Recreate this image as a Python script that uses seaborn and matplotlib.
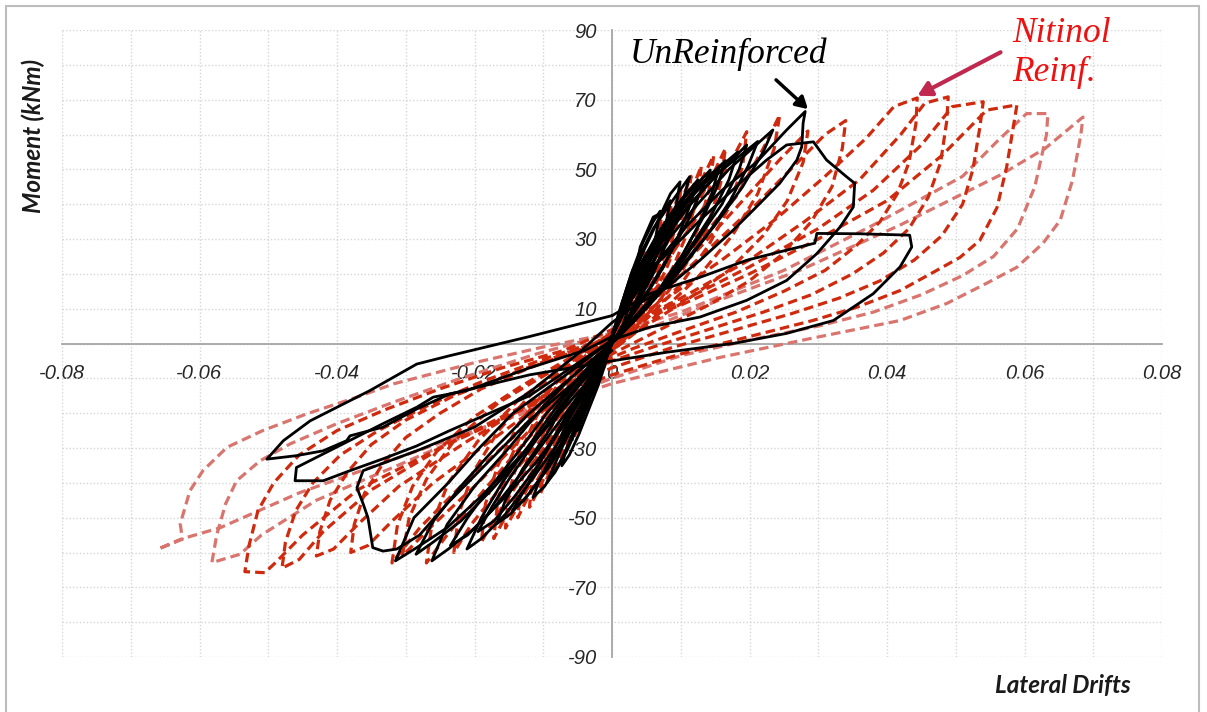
import numpy as np
import pandas as pd
import matplotlib
matplotlib.use("Agg")
import matplotlib.pyplot as plt
from matplotlib.patches import FancyArrowPatch, Rectangle
import seaborn as sns

# ---------------------------------------------------------------------------
# Moment (kNm) vs lateral drift hysteresis cycles, (drift, moment) vertices
# ---------------------------------------------------------------------------

# Nitinol-reinforced column: large late cycles (lighter shade for the last two)
nit_r1 = [(0, 3), (0.008, 13), (0.016, 24), (0.024, 36), (0.031, 48), (0.037, 59), (0.041, 68), (0.0444, 70.5),
          (0.0442, 63), (0.0432, 52), (0.0415, 43), (0.039, 35), (0.0355, 28), (0.031, 21), (0.025, 15), (0.018, 9),
          (0.01, 3.5), (0.003, -1.5), (0, -4),
          (-0.008, -14), (-0.017, -27), (-0.026, -40), (-0.032, -51), (-0.0355, -58), (-0.038, -60),
          (-0.0375, -52), (-0.036, -43), (-0.0335, -35), (-0.03, -27), (-0.025, -20), (-0.019, -13), (-0.012, -7),
          (-0.005, -2), (0, 2)]
nit_r2 = [(0, 3), (0.01, 13), (0.02, 24), (0.028, 35), (0.036, 47), (0.042, 60), (0.0455, 69), (0.0489, 70.8),
          (0.0487, 64), (0.0478, 52), (0.046, 42), (0.0432, 33), (0.0395, 26), (0.035, 20), (0.029, 14), (0.022, 9),
          (0.014, 4), (0.006, -1), (0, -5),
          (-0.01, -15), (-0.021, -28), (-0.031, -41), (-0.037, -52), (-0.0405, -59), (-0.043, -61),
          (-0.0425, -54), (-0.041, -45), (-0.0385, -37), (-0.035, -29), (-0.03, -22), (-0.023, -15), (-0.015, -9),
          (-0.007, -3), (0, 2)]
nit_r3 = [(0, 4), (0.01, 12), (0.02, 22), (0.03, 33), (0.038, 44), (0.045, 57), (0.0495, 68), (0.054, 69.4),
          (0.0535, 62), (0.0525, 50), (0.051, 40), (0.048, 31), (0.044, 24), (0.039, 18), (0.033, 13), (0.026, 8.5),
          (0.018, 4), (0.009, -1), (0, -7),
          (-0.012, -17), (-0.024, -29), (-0.035, -42), (-0.042, -54), (-0.0455, -62), (-0.048, -64.5),
          (-0.0475, -57), (-0.046, -48), (-0.0435, -40), (-0.0395, -32), (-0.034, -25), (-0.027, -18), (-0.019, -11),
          (-0.01, -4.5), (0, 2)]
nit_r4 = [(0, 4), (0.01, 11), (0.02, 20), (0.03, 30), (0.04, 41), (0.048, 54), (0.0545, 67), (0.0589, 68.5),
          (0.0583, 61.3), (0.0574, 50.6), (0.056, 39), (0.0535, 29.6), (0.0506, 24.7), (0.0467, 20.4), (0.0419, 15.2),
          (0.0356, 10.4), (0.0292, 6.6), (0.02, 2), (0.01, -3), (0, -9),
          (-0.012, -18), (-0.025, -30), (-0.037, -42), (-0.045, -55), (-0.049, -63), (-0.0505, -65.8), (-0.0534, -65.5),
          (-0.0528, -58), (-0.0515, -48), (-0.0492, -40), (-0.0455, -32), (-0.04, -25), (-0.033, -19), (-0.025, -13),
          (-0.016, -7), (-0.007, -2), (0, 4)]
nit_r5 = [(0, 3), (0.01, 9), (0.025, 21), (0.038, 34), (0.051, 48), (0.056, 58), (0.0603, 66), (0.0634, 66),
          (0.0632, 60), (0.0615, 45), (0.059, 33), (0.0555, 25), (0.051, 19.5), (0.045, 14), (0.038, 9), (0.03, 5),
          (0.02, 1), (0.01, -3.5), (0, -10),
          (-0.015, -21), (-0.03, -34), (-0.043, -45), (-0.051, -55), (-0.0541, -60.5), (-0.0582, -62.9),
          (-0.0575, -55), (-0.0562, -46), (-0.0546, -39.4), (-0.0512, -33.7), (-0.0468, -28.8), (-0.04, -23),
          (-0.032, -17), (-0.022, -10), (-0.011, -3), (0, 3)]
nit_r6 = [(0, 3), (0.0055, 4.5), (0.015, 12), (0.0273, 21), (0.0419, 34), (0.0564, 48.3), (0.063, 56), (0.0685, 65),
          (0.0682, 60), (0.067, 47), (0.0652, 35.4), (0.0627, 28.8), (0.0589, 21.9), (0.0545, 17.3), (0.0487, 11.5),
          (0.0419, 6.6), (0.0346, 3.7), (0.0288, 1.4), (0.0157, -4), (0, -11.5),
          (-0.015, -21.5), (-0.03, -32), (-0.0454, -42.8), (-0.057, -52.9), (-0.0619, -55.7), (-0.066, -59),
          (-0.0625, -56), (-0.0628, -51.8), (-0.0614, -42.3), (-0.0595, -36.5), (-0.056, -29.8), (-0.0508, -25),
          (-0.0444, -20.2), (-0.0371, -15.4), (-0.0318, -11.6), (-0.02, -5.5), (-0.01, -1), (0, 3)]

# Nitinol-reinforced column: earlier, narrower cycles
nit_m1 = [(0, 3), (0.007, 14), (0.014, 27), (0.021, 40), (0.027, 52), (0.031, 60), (0.034, 64),
          (0.0335, 56), (0.032, 45), (0.029, 35), (0.025, 26), (0.02, 18), (0.014, 11), (0.007, 4), (0, -3),
          (-0.007, -14), (-0.015, -28), (-0.022, -41), (-0.028, -53), (-0.032, -63),
          (-0.0312, -52), (-0.029, -41), (-0.0255, -31), (-0.02, -21), (-0.013, -12), (-0.006, -4), (0, 3)]
nit_i9 = [(0, 3), (0.0065, 15), (0.013, 28), (0.019, 41), (0.0245, 53), (0.0285, 61),
          (0.0278, 52), (0.0255, 41), (0.022, 31), (0.017, 21), (0.0105, 12), (0.004, 4), (0, -2),
          (-0.0065, -14), (-0.0135, -28), (-0.02, -41), (-0.026, -52), (-0.0305, -61),
          (-0.0295, -50), (-0.027, -39), (-0.023, -28), (-0.0165, -17), (-0.008, -7), (0, 3)]
nit_i1 = [(0, 3), (0.006, 15), (0.012, 28), (0.018, 42), (0.022, 56), (0.0244, 65.6),
          (0.0236, 56), (0.0212, 43), (0.0175, 31), (0.0125, 19), (0.0065, 8), (0, -2),
          (-0.006, -14), (-0.013, -29), (-0.019, -43), (-0.024, -55), (-0.027, -63),
          (-0.0262, -52), (-0.0238, -40), (-0.0195, -28), (-0.0135, -16), (-0.0065, -6), (0, 3)]
nit_i2 = [(0, 3), (0.005, 15), (0.0095, 28), (0.014, 41), (0.0175, 53), (0.0196, 60.8),
          (0.019, 51), (0.017, 39), (0.014, 28), (0.01, 17), (0.005, 7), (0, -2),
          (-0.005, -14), (-0.0105, -28), (-0.016, -41), (-0.0205, -52), (-0.023, -60),
          (-0.0223, -49), (-0.0202, -37), (-0.0165, -25), (-0.0115, -14), (-0.0055, -5), (0, 3)]
nit_i3 = [(0, 3), (0.004, 14), (0.008, 26), (0.0118, 38), (0.0148, 49), (0.0165, 56),
          (0.0158, 46), (0.0141, 35), (0.0115, 25), (0.0082, 15), (0.004, 6), (0, -2),
          (-0.004, -13), (-0.0088, -27), (-0.0133, -39), (-0.017, -50), (-0.019, -57),
          (-0.0184, -46), (-0.0166, -35), (-0.0136, -23), (-0.0094, -13), (-0.0045, -4), (0, 3)]
nit_i10 = [(0, 3), (0.0036, 14), (0.0072, 26), (0.0106, 38), (0.0133, 48), (0.0148, 54),
           (0.0141, 44), (0.0125, 33), (0.0102, 23), (0.0072, 13), (0.0035, 5), (0, -2),
           (-0.0038, -13), (-0.008, -26), (-0.012, -38), (-0.0153, -49), (-0.0172, -56),
           (-0.0166, -45), (-0.015, -34), (-0.0123, -22), (-0.0085, -12), (-0.004, -4), (0, 3)]
nit_i4 = [(0, 3), (0.0032, 13), (0.0065, 24), (0.0095, 35), (0.0118, 45), (0.013, 51),
          (0.0124, 42), (0.011, 32), (0.0089, 22), (0.0063, 13), (0.003, 5), (0, -2),
          (-0.0033, -12), (-0.0072, -25), (-0.011, -37), (-0.0138, -47), (-0.0155, -53),
          (-0.015, -43), (-0.0135, -32), (-0.011, -21), (-0.0076, -11), (-0.0036, -3), (0, 3)]
nit_i11 = [(0, 2), (0.0028, 12), (0.0057, 23), (0.0083, 33), (0.0103, 42), (0.0115, 48),
           (0.0109, 39), (0.0097, 30), (0.0078, 21), (0.0055, 12), (0.0026, 4), (0, -2),
           (-0.003, -12), (-0.0064, -24), (-0.0097, -35), (-0.0122, -44), (-0.0137, -50),
           (-0.0132, -40), (-0.0119, -30), (-0.0097, -20), (-0.0067, -10), (-0.0032, -3), (0, 2)]
nit_i5 = [(0, 2), (0.0025, 11), (0.005, 21), (0.0073, 31), (0.009, 39), (0.01, 44),
          (0.0095, 36), (0.0084, 27), (0.0068, 19), (0.0048, 11), (0.0023, 4), (0, -2),
          (-0.0026, -11), (-0.0056, -22), (-0.0085, -33), (-0.0107, -42), (-0.012, -47),
          (-0.0116, -38), (-0.0104, -28), (-0.0085, -18), (-0.0058, -9), (-0.0028, -3), (0, 2)]
nit_i12 = [(0, 2), (0.0021, 10), (0.0043, 19), (0.0063, 28), (0.0077, 35), (0.0086, 40),
           (0.0081, 32), (0.0072, 24), (0.0058, 17), (0.004, 9), (0.0019, 3), (0, -2),
           (-0.0023, -10), (-0.0049, -20), (-0.0074, -30), (-0.0093, -38), (-0.0104, -43),
           (-0.01, -34), (-0.009, -25), (-0.0073, -16), (-0.005, -8), (-0.0024, -2), (0, 2)]
nit_i6 = [(0, 2), (0.0018, 9), (0.0036, 17), (0.0053, 25), (0.0065, 31), (0.0072, 36),
          (0.0068, 29), (0.006, 22), (0.0048, 15), (0.0034, 8), (0.0016, 3), (0, -2),
          (-0.0019, -9), (-0.0041, -18), (-0.0062, -27), (-0.0078, -34), (-0.0088, -38),
          (-0.0085, -30), (-0.0076, -22), (-0.0062, -14), (-0.0042, -7), (-0.002, -2), (0, 2)]
nit_i7 = [(0, 2), (0.0012, 7), (0.0024, 12), (0.0036, 18), (0.0044, 23), (0.0048, 26),
          (0.0045, 21), (0.0039, 15), (0.0031, 10), (0.0021, 5), (0.001, 2), (0, -1),
          (-0.0012, -6), (-0.0027, -13), (-0.004, -20), (-0.0051, -25), (-0.0058, -28),
          (-0.0055, -22), (-0.0049, -16), (-0.004, -10), (-0.0027, -5), (-0.0013, -1), (0, 2)]
nit_i8 = [(0, 1), (0.001, 6), (0.002, 11), (0.003, 16), (0.0026, 11), (0.0017, 6), (0.0008, 2), (0, -1),
          (-0.0012, -7), (-0.0024, -13), (-0.0035, -18), (-0.0029, -12), (-0.0019, -6), (-0.0009, -2), (0, 1)]

# Unreinforced column: three last (degrading) cycles
unr_c1 = [(0, 8), (0.0055, 14.3), (0.0128, 19), (0.0196, 23.9), (0.0254, 26.8), (0.0295, 28.8), (0.0298, 31.6),
          (0.036, 31.5), (0.0433, 31.1), (0.0436, 27.7), (0.0419, 22), (0.038, 14.3), (0.0322, 6.6), (0.0254, 2.9),
          (0.0176, 0), (0.008, -2.5), (0, -5),
          (-0.012, -9), (-0.0236, -14.5), (-0.0284, -18.8), (-0.0333, -24), (-0.0381, -26.5), (-0.0386, -27.9),
          (-0.042, -30.8), (-0.0459, -32.2), (-0.0502, -33.2),
          (-0.0478, -27.9), (-0.0439, -22.2), (-0.04, -18.3), (-0.0352, -13.5), (-0.0284, -5.9), (-0.0236, -3.5),
          (-0.012, 2), (0, 8)]
unr_c2 = [(0, 2), (0.003, 16.1), (0.008, 25.8), (0.0128, 35.4), (0.0186, 46), (0.0225, 52.7), (0.0254, 57),
          (0.0293, 57.9), (0.0312, 52.7), (0.0341, 47.9), (0.0353, 46), (0.0351, 39.2), (0.0332, 33.5),
          (0.0298, 25.8), (0.0254, 18.1), (0.0196, 12.4), (0.0128, 7.6), (0.0055, 4.7), (0, 1),
          (-0.012, -15), (-0.0236, -25), (-0.0284, -29.4), (-0.0333, -33.1), (-0.0381, -36.5), (-0.042, -39.4),
          (-0.0461, -39.4), (-0.0459, -35.6), (-0.042, -31.7), (-0.0333, -23), (-0.0284, -18.3), (-0.026, -15.4),
          (-0.0211, -13.5), (-0.012, -7), (-0.004, -2), (0, 2)]
unr_c3 = [(0, 2), (0.002, 10), (0.006, 22), (0.011, 34), (0.016, 44), (0.021, 52), (0.0254, 61.3), (0.0281, 66.6),
          (0.0278, 63.3), (0.0276, 56.5), (0.0269, 52.7), (0.0244, 46), (0.021, 39.2), (0.0176, 32.5),
          (0.0128, 23.9), (0.008, 16.2), (0.003, 10.4), (0, 6),
          (-0.005, -3), (-0.012, -14), (-0.02, -24), (-0.028, -30.5), (-0.0362, -36.5), (-0.0371, -41.4),
          (-0.0362, -46), (-0.0355, -50), (-0.0348, -58.6), (-0.0333, -59.6), (-0.0313, -59),
          (-0.028, -55), (-0.024, -46), (-0.018, -34), (-0.012, -22), (-0.006, -12), (0, -2)]

# Unreinforced column: earlier cycles
unr_k1 = [(0, 2), (0.003, 14), (0.007, 27), (0.012, 39), (0.017, 50), (0.0234, 61.3),
          (0.022, 55), (0.019, 45), (0.015, 34), (0.01, 22), (0.005, 11), (0, 1),
          (-0.006, -8), (-0.0144, -20), (-0.0192, -29.8), (-0.024, -40.4), (-0.0288, -50), (-0.0315, -62.4),
          (-0.0284, -58.6), (-0.024, -52.9), (-0.0192, -44.2), (-0.0144, -34.5), (-0.009, -23), (-0.004, -12), (0, 2)]
unr_k9 = [(0, 2), (0.003, 15), (0.0065, 27), (0.011, 39), (0.0155, 49), (0.0212, 58),
          (0.0198, 51), (0.0172, 41), (0.0138, 31), (0.0095, 20), (0.0045, 9), (0, 0),
          (-0.0055, -9), (-0.012, -20), (-0.017, -30), (-0.022, -41), (-0.026, -51), (-0.0285, -60.5),
          (-0.026, -57), (-0.022, -51), (-0.0175, -42), (-0.013, -32), (-0.008, -20), (-0.0035, -9), (0, 2)]
unr_k2 = [(0, 2), (0.0025, 14), (0.006, 26), (0.01, 37), (0.015, 48), (0.0196, 57),
          (0.0185, 50), (0.016, 40), (0.0125, 30), (0.0085, 19), (0.004, 9), (0, 0),
          (-0.005, -8), (-0.01, -18), (-0.015, -30), (-0.02, -41), (-0.024, -52), (-0.0262, -62.4),
          (-0.0238, -59), (-0.02, -53), (-0.0155, -44), (-0.011, -34), (-0.0065, -22), (-0.002, -9), (0, 2)]
unr_k3 = [(0, 2), (0.002, 13), (0.005, 25), (0.0085, 36), (0.013, 46), (0.0183, 55),
          (0.017, 47), (0.0145, 37), (0.0112, 27), (0.0075, 17), (0.0035, 8), (0, 0),
          (-0.004, -8), (-0.008, -18), (-0.012, -29), (-0.016, -40), (-0.019, -50), (-0.0211, -59),
          (-0.019, -56), (-0.0155, -49), (-0.012, -40), (-0.008, -29), (-0.004, -16), (0, 2)]
unr_k10 = [(0, 2), (0.002, 13), (0.0048, 24), (0.008, 34), (0.012, 44), (0.0165, 52.5),
           (0.0153, 45), (0.0132, 36), (0.0104, 26), (0.007, 16), (0.0032, 7), (0, 0),
           (-0.0045, -9), (-0.0095, -20), (-0.014, -32), (-0.018, -42), (-0.021, -50), (-0.0235, -58),
           (-0.021, -55), (-0.0175, -48), (-0.0135, -38), (-0.009, -26), (-0.0045, -14), (0, 1)]
unr_k13 = [(0, 3), (0.0025, 14), (0.0055, 25), (0.0088, 35), (0.012, 43), (0.0155, 50),
           (0.0145, 43), (0.0126, 34), (0.0099, 24), (0.0066, 14), (0.003, 6), (0, 0),
           (-0.0035, -8), (-0.0075, -18), (-0.0115, -29), (-0.015, -39), (-0.0175, -47), (-0.0195, -54),
           (-0.0172, -51), (-0.0142, -44), (-0.0108, -35), (-0.007, -23), (-0.0032, -11), (0, 2)]
unr_k4 = [(0, 2), (0.002, 13), (0.0045, 24), (0.0075, 34), (0.011, 43), (0.0143, 49.8),
          (0.013, 44), (0.011, 35), (0.0085, 26), (0.0055, 16), (0.0025, 7), (0, 0),
          (-0.003, -7), (-0.0065, -16), (-0.0095, -26), (-0.013, -36), (-0.0155, -45), (-0.0168, -51.8),
          (-0.0148, -49), (-0.012, -43), (-0.009, -35), (-0.006, -25), (-0.003, -14), (0, 2)]
unr_k11 = [(0, 2), (0.0018, 12), (0.004, 22), (0.0065, 31), (0.0095, 40), (0.0125, 47),
           (0.0114, 40), (0.0097, 31), (0.0075, 22), (0.005, 14), (0.0022, 6), (0, 0),
           (-0.0025, -8), (-0.0055, -17), (-0.0085, -27), (-0.011, -36), (-0.013, -43), (-0.0145, -48),
           (-0.0128, -45), (-0.0102, -38), (-0.0075, -29), (-0.0048, -19), (-0.0022, -9), (0, 1)]
unr_k5 = [(0, 2), (0.0015, 12), (0.0035, 23), (0.006, 33), (0.0088, 41), (0.0113, 47.9),
          (0.0103, 41), (0.0087, 32), (0.0066, 23), (0.0042, 14), (0.002, 6), (0, 0),
          (-0.002, -7), (-0.0045, -15), (-0.0068, -24), (-0.009, -33), (-0.0105, -39), (-0.0115, -44.2),
          (-0.0098, -41), (-0.0078, -35), (-0.0058, -27), (-0.0038, -18), (-0.0018, -9), (0, 2)]
unr_k6 = [(0, 2), (0.003, 16), (0.0041, 27.7), (0.006, 36.3), (0.0072, 37.5), (0.0085, 43), (0.0099, 46.4),
          (0.0092, 38), (0.0078, 29), (0.006, 20), (0.0038, 12), (0.0015, 5), (0, 0),
          (-0.0015, -6), (-0.003, -13), (-0.0045, -20), (-0.006, -27), (-0.0068, -31), (-0.0073, -35.1),
          (-0.0062, -32), (-0.0048, -26), (-0.0034, -19), (-0.002, -12), (-0.001, -6), (0, 2)]
unr_k12 = [(0, 2), (0.0013, 10), (0.003, 19), (0.0047, 27), (0.0066, 35), (0.0085, 41),
           (0.0078, 34), (0.0066, 26), (0.005, 18), (0.0032, 10), (0.0014, 4), (0, 0),
           (-0.0016, -7), (-0.0036, -15), (-0.0056, -23), (-0.0073, -30), (-0.0086, -36), (-0.0095, -40),
           (-0.0083, -37), (-0.0066, -31), (-0.0048, -23), (-0.003, -14), (-0.0014, -6), (0, 1)]
unr_k7 = [(0, 2), (0.0012, 10), (0.0028, 20), (0.0045, 29), (0.006, 35), (0.007, 38),
          (0.0064, 31), (0.0054, 23), (0.0041, 15), (0.0025, 8), (0.001, 3), (0, 0),
          (-0.001, -5), (-0.0022, -11), (-0.0034, -17), (-0.0044, -22), (-0.005, -25),
          (-0.0043, -21), (-0.0033, -16), (-0.0022, -10), (-0.001, -4), (0, 2)]
unr_k8 = [(0, 1), (0.001, 8), (0.002, 15), (0.003, 21), (0.004, 25), (0.0035, 19), (0.0027, 12), (0.0017, 6),
          (0.0007, 2), (0, 0), (-0.001, -5), (-0.002, -10), (-0.003, -15), (-0.0024, -11), (-0.0015, -6),
          (-0.0007, -2), (0, 1)]

# Axis ticks and labels
x_ticks = [-0.08, -0.06, -0.04, -0.02, 0.0, 0.02, 0.04, 0.06, 0.08]
x_tick_labels = ["-0.08", "-0.06", "-0.04", "-0.02", "0", "0.02", "0.04", "0.06", "0.08"]
y_ticks = [-90, -70, -50, -30, -10, 10, 30, 50, 70, 90]
y_tick_labels = ["-90", "-70", "-50", "-30", "-10", "10", "30", "50", "70", "90"]
x_grid = [-0.07, -0.05, -0.03, -0.01, 0.01, 0.03, 0.05, 0.07]
y_grid = [-80, -60, -40, -20, 0, 20, 40, 60, 80]


def cycles_frame(cycles):
    rows = []
    for cid, pts in enumerate(cycles):
        for d, m in pts:
            rows.append({"cycle": cid, "drift": d, "moment": m})
    return pd.DataFrame(rows)


nit_light = cycles_frame([nit_r5, nit_r6])
nit_dark = cycles_frame([nit_r1, nit_r2, nit_r3, nit_r4, nit_m1, nit_i9, nit_i1, nit_i2, nit_i3, nit_i10,
                         nit_i4, nit_i11, nit_i5, nit_i12, nit_i6, nit_i7, nit_i8])
unreinforced = cycles_frame([unr_c1, unr_c2, unr_c3, unr_k1, unr_k9, unr_k2, unr_k3, unr_k10, unr_k13,
                             unr_k4, unr_k11, unr_k5, unr_k6, unr_k12, unr_k7, unr_k8])

sns.set_theme(style="white")
plt.rcParams["font.family"] = ["Lato", "DejaVu Sans"]

W, H = 1207, 712
fig = plt.figure(figsize=(W / 100, H / 100), dpi=100)
fig.patch.set_facecolor("white")
fig.add_artist(Rectangle((6 / W, -0.02), 1193 / W, 1.02 - 6 / H, transform=fig.transFigure,
                         fill=False, edgecolor="#bdbdbd", lw=1.5))

ax = fig.add_axes([62 / W, 55 / H, 1100 / W, 627 / H])
ax.set_facecolor("none")

dash = (0, (3.0, 1.6))
sns.lineplot(data=nit_light, x="drift", y="moment", units="cycle", estimator=None, sort=False,
             color="#d9756e", lw=2.3, linestyle=dash, ax=ax, legend=False, zorder=3)
sns.lineplot(data=nit_dark, x="drift", y="moment", units="cycle", estimator=None, sort=False,
             color="#d02a0e", lw=2.3, linestyle=dash, ax=ax, legend=False, zorder=3)
sns.lineplot(data=unreinforced, x="drift", y="moment", units="cycle", estimator=None, sort=False,
             color="black", lw=2.0, ax=ax, legend=False, zorder=4)

ax.set_xlim(-0.08, 0.08)
ax.set_ylim(-90, 90)
ax.set_xlabel("")
ax.set_ylabel("")

# Axes cross at the origin (placing the spines first: it rebuilds the ticks)
for side in ("top", "right"):
    ax.spines[side].set_visible(False)
for side in ("left", "bottom"):
    ax.spines[side].set_position(("data", 0))
    ax.spines[side].set_color("#a6a6a6")
    ax.spines[side].set_linewidth(1.3)
    ax.spines[side].set_zorder(2)

tick_font = dict(family=["Liberation Sans", "DejaVu Sans"], style="italic", size=14.5)
ax.set_xticks(x_ticks)
ax.set_xticks(x_grid, minor=True)
ax.set_yticks(y_ticks)
ax.set_yticks(y_grid, minor=True)
ax.tick_params(axis="x", which="major", direction="out", length=4, width=1.2, color="#a6a6a6", pad=11)
ax.tick_params(axis="y", which="major", direction="out", length=4, width=1.2, color="#a6a6a6", pad=7)
ax.tick_params(which="minor", length=0)
ax.set_xticklabels(x_tick_labels, fontdict=tick_font, color="#262626")
ax.set_yticklabels(y_tick_labels, fontdict=tick_font, color="#262626")
ax.grid(True, which="both", color="#d6d6d6", linestyle=(0, (1, 1.5)), lw=1.0)

# Axis titles
fig.text(33 / W, 1 - 136 / H, "Moment (kNm)", rotation=90, ha="center", va="center",
         fontsize=17.5, fontweight="bold", fontstyle="italic", color="#1a1a1a")
fig.text(1063 / W, 1 - 686 / H, "Lateral Drifts", ha="center", va="center",
         fontsize=17.5, fontweight="bold", fontstyle="italic", color="#1a1a1a")

# Series annotations
serif = ["Liberation Serif", "DejaVu Serif"]
fig.text(630 / W, 1 - 63 / H, "UnReinforced", ha="left", va="baseline", fontsize=25.5,
         fontstyle="italic", family=serif, color="black")
fig.text(1012 / W, 1 - 42 / H, "Nitinol", ha="left", va="baseline", fontsize=25.5,
         fontstyle="italic", family=serif, color="#ee1111")
fig.text(1012 / W, 1 - 81 / H, "Reinf.", ha="left", va="baseline", fontsize=25.5,
         fontstyle="italic", family=serif, color="#ee1111")

fig.add_artist(FancyArrowPatch((774 / W, 1 - 78 / H), (810 / W, 1 - 111 / H), transform=fig.transFigure,
                               arrowstyle="-|>,head_length=7,head_width=4", color="black", lw=2.5, zorder=6))
fig.add_artist(FancyArrowPatch((1003 / W, 1 - 51 / H), (915 / W, 1 - 97 / H), transform=fig.transFigure,
                               arrowstyle="-|>,head_length=8,head_width=4.5", color="#c0284f", lw=3, zorder=6))

fig.savefig("out.png", dpi=100, facecolor="white")
